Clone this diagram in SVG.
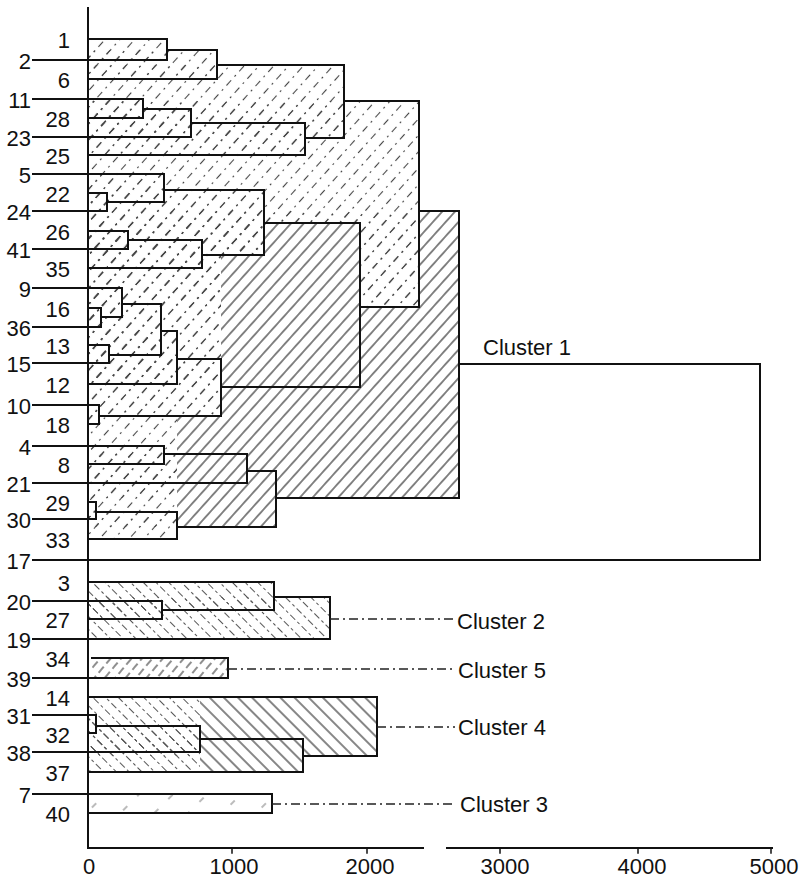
<svg xmlns="http://www.w3.org/2000/svg" width="803" height="882" viewBox="0 0 803 882">
<style>
.lbl{font-family:"Liberation Sans",Arial,sans-serif;font-size:22px;fill:#111}
.r{text-anchor:end}
.m{text-anchor:middle}
.ln{fill:none;stroke:#111;stroke-width:2;stroke-linecap:square}
.dd{fill:none;stroke:#222;stroke-width:1.4;stroke-dasharray:9 4 2 4}
.hDF{fill:url(#hDashF);stroke:none}
.hSF{fill:url(#hSolidF);stroke:none}
.hDB{fill:url(#hDashB);stroke:none}
.hSB{fill:url(#hSolidB);stroke:none}
.hD5{fill:url(#hDash5);stroke:none}
.hSp{fill:url(#hSparse);stroke:none}
</style>
<defs>
<pattern id="hDashF" patternUnits="userSpaceOnUse" width="11" height="19" patternTransform="rotate(42)">
<line x1="5.5" y1="0" x2="5.5" y2="19" stroke="#444" stroke-width="1.1" stroke-dasharray="7 5 2 5"/>
</pattern>
<pattern id="hSolidF" patternUnits="userSpaceOnUse" width="9.5" height="9.5" patternTransform="rotate(42)">
<rect width="9.5" height="9.5" fill="#fff"/>
<line x1="4.75" y1="0" x2="4.75" y2="9.5" stroke="#222" stroke-width="1.1"/>
</pattern>
<pattern id="hDashB" patternUnits="userSpaceOnUse" width="9" height="16" patternTransform="rotate(-45)">
<line x1="4.5" y1="0" x2="4.5" y2="16" stroke="#555" stroke-width="1" stroke-dasharray="7 3 3 3"/>
</pattern>
<pattern id="hSolidB" patternUnits="userSpaceOnUse" width="10" height="10" patternTransform="rotate(-45)">
<rect width="10" height="10" fill="#fff"/>
<line x1="5" y1="0" x2="5" y2="10" stroke="#222" stroke-width="1.1"/>
</pattern>
<pattern id="hDash5" patternUnits="userSpaceOnUse" width="8" height="12" patternTransform="rotate(40)">
<line x1="4" y1="0" x2="4" y2="12" stroke="#333" stroke-width="1.1" stroke-dasharray="8 4"/>
</pattern>
<pattern id="hSparse" patternUnits="userSpaceOnUse" width="24" height="20" patternTransform="rotate(45)">
<line x1="12" y1="0" x2="12" y2="20" stroke="#777" stroke-width="1" stroke-dasharray="6 14"/>
</pattern>
</defs>

<g id="hatching">
<rect class="hDF" x="88" y="39" width="79" height="21"/>
<rect class="hDF" x="88" y="50" width="129" height="29"/>
<rect class="hDF" x="88" y="99" width="55" height="19"/>
<rect class="hDF" x="88" y="109" width="103" height="28"/>
<rect class="hDF" x="88" y="123" width="217" height="32"/>
<rect class="hDF" x="88" y="65" width="256" height="73"/>
<rect class="hDF" x="88" y="193" width="19" height="18"/>
<rect class="hDF" x="88" y="174" width="76" height="28"/>
<rect class="hDF" x="88" y="231" width="40" height="18"/>
<rect class="hDF" x="88" y="240" width="114" height="28"/>
<rect class="hDF" x="88" y="190" width="176" height="65"/>
<rect class="hDF" x="88" y="308" width="13" height="19"/>
<rect class="hDF" x="88" y="288" width="34" height="29"/>
<rect class="hDF" x="88" y="345" width="21" height="18"/>
<rect class="hDF" x="88" y="304" width="73" height="51"/>
<rect class="hDF" x="88" y="331" width="89" height="53"/>
<rect class="hDF" x="88" y="405" width="11" height="19"/>
<rect class="hDF" x="88" y="359" width="133" height="57"/>
<rect class="hDF" x="88" y="223" width="272" height="164"/>
<rect class="hDF" x="88" y="101" width="331" height="206"/>
<rect class="hDF" x="88" y="446" width="76" height="18"/>
<rect class="hDF" x="88" y="454" width="159" height="29"/>
<rect class="hDF" x="88" y="502" width="8" height="17"/>
<rect class="hDF" x="88" y="512" width="89" height="27"/>
<rect class="hDF" x="88" y="471" width="188" height="56"/>
<rect class="hDF" x="88" y="211" width="371" height="287"/>
<path class="hSF" d="M264 223H360V307H419V211H459V498H276V527H177V416H221V255H264Z"/>
<rect class="hDB" x="88" y="601" width="74" height="18"/>
<rect class="hDB" x="88" y="582" width="186" height="28"/>
<rect class="hDB" x="88" y="597" width="242" height="42"/>
<rect class="hD5" x="92" y="658" width="136" height="20"/>
<rect class="hDB" x="88" y="715" width="8" height="18"/>
<rect class="hDB" x="88" y="726" width="112" height="26"/>
<rect class="hDB" x="88" y="739" width="215" height="33"/>
<rect class="hDB" x="88" y="697" width="289" height="59"/>
<path class="hSB" d="M200 697H377V756H303V772H200Z"/>
<rect class="hSp" x="88" y="794" width="184" height="19"/>
</g>

<g id="axes">
<path class="ln" d="M88 8V848M88 848H423M447 848H772"/>
<path class="ln" style="stroke-width:1.5" d="M232 848v5M367 848v5M500 848v5M638 848v5M771 848v5"/>
<text class="lbl m" x="89" y="874">0</text>
<text class="lbl m" x="234" y="874">1000</text>
<text class="lbl m" x="370" y="874">2000</text>
<text class="lbl m" x="505" y="874">3000</text>
<text class="lbl m" x="642" y="874">4000</text>
<text class="lbl m" x="774" y="874">5000</text>
</g>

<g id="connectors">
<path class="ln" d="M88 39H167M33 60H167M88 79H217M33 99H143M88 118H143M33 137H191M88 155H305M33 174H164M88 193H107M33 211H107M88 231H128M33 249H128M88 268H202M33 288H122M88 308H101M33 327H101M88 345H109M33 363H109M88 384H177M33 405H99M88 424H99M33 446H164M88 464H164M33 483H247M88 502H96M33 519H96M88 539H177M33 560H760"/>
<path class="ln" d="M167 39V60M167 50H217M217 50V79M217 65H344M143 99V118M143 109H191M191 109V137M191 123H305M305 123V155M305 138H344M344 65V138M344 101H419M107 193V211M107 202H164M164 174V202M164 190H264M128 231V249M128 240H202M202 240V268M202 255H264M264 190V255M264 223H360M101 308V327M101 317H122M122 288V317M122 304H161M109 345V363M109 355H161M161 304V355M161 331H177M177 331V384M177 359H221M99 405V424M99 416H221M221 359V416M221 387H360M360 223V387M360 307H419M419 101V307M419 211H459M164 446V464M164 454H247M247 454V483M247 471H276M96 502V519M96 512H177M177 512V539M177 527H276M276 471V527M276 498H459M459 211V498M459 364H760M760 364V560"/>
<path class="ln" d="M88 582H274M33 601H162M88 619H162M33 639H330M162 601V619M162 610H274M274 582V610M274 597H330M330 597V639"/>
<path class="ln" d="M92 658H228M33 678H228M228 658V678"/>
<path class="ln" d="M88 697H377M33 715H96M88 733H96M33 752H200M88 772H303M96 715V733M96 726H200M200 726V752M200 739H303M303 739V772M303 756H377M377 697V756"/>
<path class="ln" d="M33 794H272M88 813H272M272 794V813"/>
<path class="dd" d="M330 619H455M228 669H455M377 727H455M272 804H455"/>
</g>

<g id="leaves">
<g id="leaf-1"><text class="lbl r" x="70" y="48">1</text></g>
<g id="leaf-2"><text class="lbl r" x="31" y="69">2</text></g>
<g id="leaf-6"><text class="lbl r" x="70" y="88">6</text></g>
<g id="leaf-11"><text class="lbl r" x="31" y="108">11</text></g>
<g id="leaf-28"><text class="lbl r" x="70" y="127">28</text></g>
<g id="leaf-23"><text class="lbl r" x="31" y="146">23</text></g>
<g id="leaf-25"><text class="lbl r" x="70" y="164">25</text></g>
<g id="leaf-5"><text class="lbl r" x="31" y="183">5</text></g>
<g id="leaf-22"><text class="lbl r" x="70" y="202">22</text></g>
<g id="leaf-24"><text class="lbl r" x="31" y="220">24</text></g>
<g id="leaf-26"><text class="lbl r" x="70" y="240">26</text></g>
<g id="leaf-41"><text class="lbl r" x="31" y="258">41</text></g>
<g id="leaf-35"><text class="lbl r" x="70" y="277">35</text></g>
<g id="leaf-9"><text class="lbl r" x="31" y="297">9</text></g>
<g id="leaf-16"><text class="lbl r" x="70" y="317">16</text></g>
<g id="leaf-36"><text class="lbl r" x="31" y="336">36</text></g>
<g id="leaf-13"><text class="lbl r" x="70" y="354">13</text></g>
<g id="leaf-15"><text class="lbl r" x="31" y="372">15</text></g>
<g id="leaf-12"><text class="lbl r" x="70" y="393">12</text></g>
<g id="leaf-10"><text class="lbl r" x="31" y="414">10</text></g>
<g id="leaf-18"><text class="lbl r" x="70" y="433">18</text></g>
<g id="leaf-4"><text class="lbl r" x="31" y="455">4</text></g>
<g id="leaf-8"><text class="lbl r" x="70" y="473">8</text></g>
<g id="leaf-21"><text class="lbl r" x="31" y="492">21</text></g>
<g id="leaf-29"><text class="lbl r" x="70" y="511">29</text></g>
<g id="leaf-30"><text class="lbl r" x="31" y="528">30</text></g>
<g id="leaf-33"><text class="lbl r" x="70" y="548">33</text></g>
<g id="leaf-17"><text class="lbl r" x="31" y="569">17</text></g>
<g id="leaf-3"><text class="lbl r" x="70" y="591">3</text></g>
<g id="leaf-20"><text class="lbl r" x="31" y="610">20</text></g>
<g id="leaf-27"><text class="lbl r" x="70" y="628">27</text></g>
<g id="leaf-19"><text class="lbl r" x="31" y="648">19</text></g>
<g id="leaf-34"><text class="lbl r" x="70" y="667">34</text></g>
<g id="leaf-39"><text class="lbl r" x="31" y="687">39</text></g>
<g id="leaf-14"><text class="lbl r" x="70" y="706">14</text></g>
<g id="leaf-31"><text class="lbl r" x="31" y="724">31</text></g>
<g id="leaf-32"><text class="lbl r" x="70" y="743">32</text></g>
<g id="leaf-38"><text class="lbl r" x="31" y="761">38</text></g>
<g id="leaf-37"><text class="lbl r" x="70" y="781">37</text></g>
<g id="leaf-7"><text class="lbl r" x="31" y="803">7</text></g>
<g id="leaf-40"><text class="lbl r" x="70" y="822">40</text></g>
</g>

<g id="clusters">
<g id="cluster-1"><text class="lbl" x="483" y="355">Cluster 1</text></g>
<g id="cluster-2"><text class="lbl" x="457" y="629">Cluster 2</text></g>
<g id="cluster-5"><text class="lbl" x="458" y="678">Cluster 5</text></g>
<g id="cluster-4"><text class="lbl" x="458" y="735">Cluster 4</text></g>
<g id="cluster-3"><text class="lbl" x="460" y="812">Cluster 3</text></g>
</g>
</svg>
